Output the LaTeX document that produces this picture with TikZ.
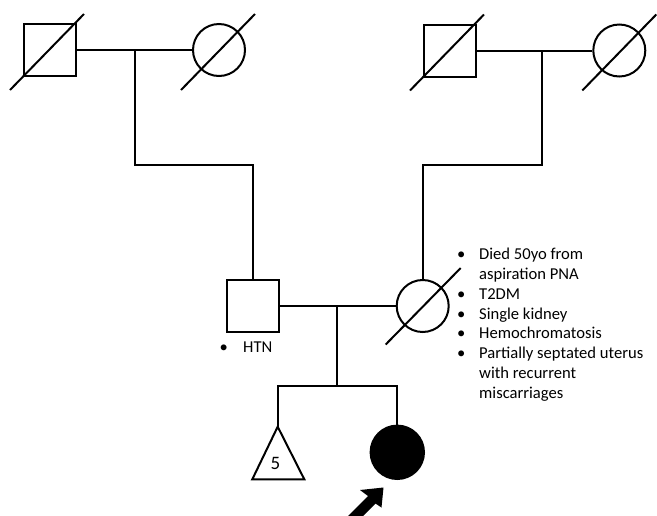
\documentclass[tikz,border=0pt]{standalone}
\usepackage{fontspec}
\setmainfont{Carlito}
\usetikzlibrary{calc}
\begin{document}
\begin{tikzpicture}[x=1pt,y=-1pt,
  ln/.style={line width=2pt, line cap=butt},
  male/.style={draw, line width=2pt, rectangle, minimum size=52pt, inner sep=0pt},
  female/.style={draw, line width=2pt, circle, minimum size=52pt, inner sep=0pt},
  slash/.style={line width=2pt},
  note/.style={inner sep=0pt, font=\fontsize{16.6}{19.9}\selectfont}
]
\useasboundingbox (0,0) rectangle (657,515);
\fill[white] (0,0) rectangle (657,515);

% generation I
\node[male]   (gf1) at (50,50) {};
\node[female] (gm1) at (219,50) {};
\node[male]   (gf2) at (450,50.5) {};
\node[female] (gm2) at (619.3,50.5) {};
% generation II
\node[male]   (fa) at (253,306) {};
\node[female] (mo) at (422.7,306) {};
% generation III
\coordinate (sibapex) at (277.7,426.7);
\node[font=\fontsize{19}{22}\selectfont, inner sep=0pt] (sib5) at (275.5,463.5) {5};
\node[female, fill=black, minimum size=53.4pt] (pr) at (397.3,452.3) {};

\draw[ln, line join=miter] (sibapex) -- (304.3,479.3) -- (252.3,479.3) -- cycle;

% slashes (deceased)
\draw[slash] ($(gf1.center)+(-40,40)$) -- ($(gf1.center)+(34,-36)$);
\draw[slash] ($(gm1.center)+(-38,40)$) -- ($(gm1.center)+(36,-36)$);
\draw[slash] ($(gf2.center)+(-40,40)$) -- ($(gf2.center)+(34,-36)$);
\draw[slash] ($(gm2.center)+(-37,40)$) -- ($(gm2.center)+(37,-36)$);
\draw[slash] ($(mo.center)+(-37,38.5)$) -- ($(mo.center)+(38,-38)$);

% marriages and descent lines
\coordinate (m1) at (134.7,50);
\coordinate (m2) at (541.7,50.5);
\coordinate (m3) at (337.3,306);
\coordinate (s3) at (337.3,385.7);
\draw[ln] (gf1.east) -- (gm1.west);
\draw[ln] (gf2.east) -- (gm2.west);
\draw[ln] (fa.east) -- (mo.west);
\draw[ln, line join=miter] (m1) -- (134.7,165) -| (fa.north);
\draw[ln, line join=miter] (m2) -- (541.7,165) -| (mo.north);
\draw[ln] (m3) -- (s3);
\draw[ln, line join=miter] (sibapex) -- (277.7,385.7) -- (397.3,385.7) -- (pr.north);

% proband arrow
\coordinate (arrowtip) at (383.5,487.5);
\fill[black] (arrowtip) -- (381.5,507.5) -- (375.5,503.5) -- (351.5,527.5) -- (344,520) -- (368,496) -- (360,490) -- cycle;

% notes
\node[note, anchor=base west] (htn) at (219.5,352.3)
  {\begin{tabular}[t]{@{}p{23.5pt}@{}l@{}}•&HTN\end{tabular}};
\node[note, anchor=base west] (monotes) at (456.9,259.3)
  {\begin{tabular}[t]{@{}p{22.1pt}@{}l@{}}
  •&Died 50yo from\\
   &aspiration PNA\\
  •&T2DM\\
  •&Single kidney\\
  •&Hemochromatosis\\
  •&Partially septated uterus\\
   &with recurrent\\
   &miscarriages
  \end{tabular}};
\end{tikzpicture}
\end{document}
